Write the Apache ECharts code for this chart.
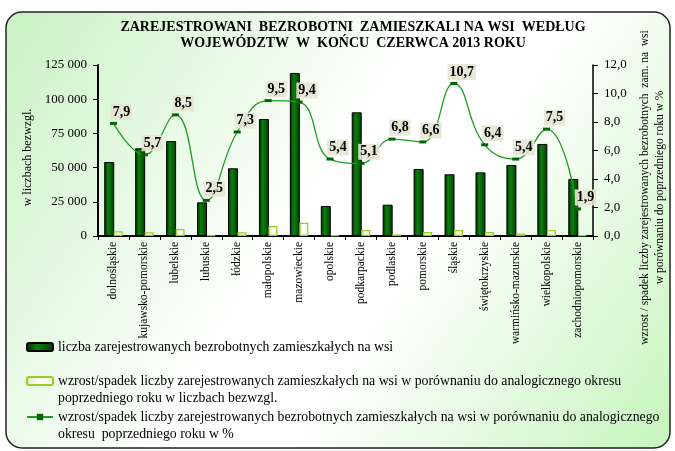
<!DOCTYPE html>
<html>
<head>
<meta charset="utf-8">
<script src="https://cdn.jsdelivr.net/npm/echarts@6/dist/echarts.min.js"></script>
<style>
  html, body { margin: 0; padding: 0; background: #fff; }
  #chart { width: 675px; height: 451px; }
</style>
</head>
<body>
<div id="chart"></div>
<script>
// Voivodeships (categories)
const regions = [
    'dolnośląskie', 'kujawsko-pomorskie', 'lubelskie', 'lubuskie', 'łódzkie',
    'małopolskie', 'mazowieckie', 'opolskie', 'podkarpackie', 'podlaskie',
    'pomorskie', 'śląskie', 'świętokrzyskie', 'warmińsko-mazurskie',
    'wielkopolskie', 'zachodniopomorskie'
];

// Registered unemployed living in rural areas (absolute numbers)
const unemployed = [
    54100, 64100, 69400, 24600, 49500, 85500, 119200, 21900,
    90400, 22900, 49000, 45100, 46500, 51900, 67300, 41700
];

// Year-on-year change, absolute numbers
const changeAbs = [
    3400, 2700, 5100, 500, 2700, 7300, 9700, 500,
    4400, 1200, 2900, 4400, 2900, 1900, 4400, 500
];

// Year-on-year change in %
const changePct = [7.9, 5.7, 8.5, 2.5, 7.3, 9.5, 9.4, 5.4, 5.1, 6.8, 6.6, 10.7, 6.4, 5.4, 7.5, 1.9];

const leftTicks = { min: 0, max: 125000, interval: 25000 };
const rightTicks = { min: 0, max: 12, interval: 2 };

const nameBars = 'liczba zarejestrowanych bezrobotnych zamieszkałych na wsi';
const nameAbs = 'wzrost/spadek liczby zarejestrowanych zamieszkałych na wsi w porównaniu do analogicznego okresu poprzedniego roku w liczbach bezwzgl.';
const namePct = 'wzrost/spadek liczby zarejestrowanych bezrobotnych zamieszkałych na wsi w porównaniu do analogicznego okresu  poprzedniego roku w %';

// legend text broken into lines as in the original
const legendLines = {};
legendLines[nameBars] = [nameBars];
legendLines[nameAbs] = [
    'wzrost/spadek liczby zarejestrowanych zamieszkałych na wsi w porównaniu do analogicznego okresu',
    'poprzedniego roku w liczbach bezwzgl.'
];
legendLines[namePct] = [
    'wzrost/spadek liczby zarejestrowanych bezrobotnych zamieszkałych na wsi w porównaniu do analogicznego',
    'okresu  poprzedniego roku w %'
];

const titleLines = [
    'ZAREJESTROWANI  BEZROBOTNI  ZAMIESZKALI NA WSI  WEDŁUG',
    'WOJEWÓDZTW  W  KOŃCU  CZERWCA 2013 ROKU'
];

const serif = "'Liberation Serif', 'Times New Roman', serif";
const legendLH = 17;

function thousands(v) {
    return String(v).replace(/\B(?=(\d{3})+(?!\d))/g, ' ');
}

// iconY = vertical centre of the legend swatch
function legendBox(name, iconY) {
    const lines = legendLines[name];
    const multi = lines.length > 1;
    return {
        data: [name],
        left: 26,
        top: multi ? iconY - legendLH * 1.5 : iconY - legendLH / 2,
        padding: 0,
        itemWidth: 26,
        itemHeight: 8,
        selectedMode: false,
        // a blank first line keeps the swatch next to the first text line
        formatter: n => multi ? ' \n' + legendLines[n].join('\n') : n,
        textStyle: {
            fontFamily: serif,
            fontSize: 13.8,
            color: '#000',
            lineHeight: legendLH
        }
    };
}

const chart = echarts.init(document.getElementById('chart'), null, { renderer: 'canvas' });

const option = {
    animation: false,
    textStyle: { fontFamily: serif },
    graphic: [
        {
            type: 'rect',
            z: -10,
            silent: true,
            shape: { x: 6, y: 12, width: 664, height: 436, r: 16 },
            style: {
                stroke: '#222',
                lineWidth: 1.5,
                fill: new echarts.graphic.LinearGradient(0, 0, 1, 1, [
                    { offset: 0, color: '#c9f2c3' },
                    { offset: 0.45, color: '#ffffff' },
                    { offset: 0.6, color: '#ffffff' },
                    { offset: 1, color: '#c6f5bd' }
                ])
            }
        }
    ],
    title: {
        text: titleLines.join('\n'),
        left: 353,
        textAlign: 'center',
        top: 19,
        padding: 0,
        textStyle: {
            fontFamily: serif,
            fontSize: 14,
            fontWeight: 'bold',
            color: '#000',
            lineHeight: 16
        }
    },
    legend: [
        legendBox(nameBars, 347),
        legendBox(nameAbs, 381),
        legendBox(namePct, 417)
    ],
    grid: {
        left: 98,
        right: 82,
        top: 65,
        bottom: 215,
        containLabel: false,
        outerBoundsMode: 'none'
    },
    xAxis: {
        type: 'category',
        data: regions,
        axisLine: { lineStyle: { color: '#000', width: 2 } },
        axisTick: { show: true, length: 4, lineStyle: { color: '#000', width: 1 } },
        axisLabel: {
            interval: 0,
            rotate: 90,
            margin: 6,
            fontFamily: serif,
            fontSize: 11.5,
            color: '#000'
        }
    },
    yAxis: [
        {
            type: 'value',
            min: leftTicks.min,
            max: leftTicks.max,
            interval: leftTicks.interval,
            name: 'w liczbach bezwzgl.',
            nameLocation: 'middle',
            nameGap: 54,
            nameTextStyle: {
                fontFamily: serif,
                fontSize: 12,
                color: '#000',
                padding: [0, 14, 0, 0]
            },
            axisLine: { show: true, lineStyle: { color: '#000', width: 2 } },
            axisTick: { show: true, length: 5, lineStyle: { color: '#000' } },
            splitLine: { show: false },
            axisLabel: {
                margin: 11,
                fontFamily: serif,
                fontSize: 13,
                color: '#000',
                formatter: v => thousands(v)
            }
        },
        {
            type: 'value',
            position: 'right',
            min: rightTicks.min,
            max: rightTicks.max,
            interval: rightTicks.interval,
            name: 'wzrost / spadek liczby zarejestrowanych bezrobotnych  zam. na  wsi\nw porównaniu do poprzedniego roku w %',
            nameLocation: 'middle',
            nameGap: 42,
            nameTextStyle: {
                fontFamily: serif,
                fontSize: 11.5,
                color: '#000',
                lineHeight: 15,
                padding: [0, 74, 0, 0]
            },
            axisLine: { show: true, lineStyle: { color: '#000', width: 1.5 } },
            axisTick: { show: true, length: 5, lineStyle: { color: '#000' } },
            splitLine: { show: false },
            axisLabel: {
                margin: 11,
                fontFamily: serif,
                fontSize: 13,
                color: '#000',
                formatter: v => v.toFixed(1).replace('.', ',')
            }
        }
    ],
    series: [
        {
            name: nameBars,
            type: 'bar',
            data: unemployed,
            barWidth: 10,
            barGap: '-5%',
            itemStyle: {
                color: new echarts.graphic.LinearGradient(0, 0, 1, 0, [
                    { offset: 0, color: '#002a00' },
                    { offset: 0.4, color: '#0d800d' },
                    { offset: 1, color: '#003a00' }
                ]),
                borderColor: '#000',
                borderWidth: 1
            }
        },
        {
            name: nameAbs,
            type: 'bar',
            data: changeAbs,
            barWidth: 9,
            itemStyle: {
                color: new echarts.graphic.LinearGradient(0, 0, 1, 0, [
                    { offset: 0, color: '#d4f4c4' },
                    { offset: 0.5, color: '#ffffff' },
                    { offset: 1, color: '#e4f8d8' }
                ]),
                borderColor: '#9acd1e',
                borderWidth: 1.2
            }
        },
        {
            name: namePct,
            type: 'line',
            yAxisIndex: 1,
            data: changePct,
            smooth: 0.45,
            z: 5,
            symbol: 'rect',
            symbolSize: [7, 3],
            lineStyle: { color: '#229b22', width: 1.3 },
            itemStyle: { color: '#006600' },
            label: {
                show: true,
                position: 'top',
                distance: 2,
                offset: [8, 0],
                fontFamily: serif,
                fontSize: 14,
                fontWeight: 'bold',
                color: '#000',
                backgroundColor: 'rgba(230, 230, 212, 0.9)',
                padding: [1, 2],
                formatter: p => p.value.toFixed(1).replace('.', ',')
            }
        }
    ]
};

chart.setOption(option);
</script>
</body>
</html>
